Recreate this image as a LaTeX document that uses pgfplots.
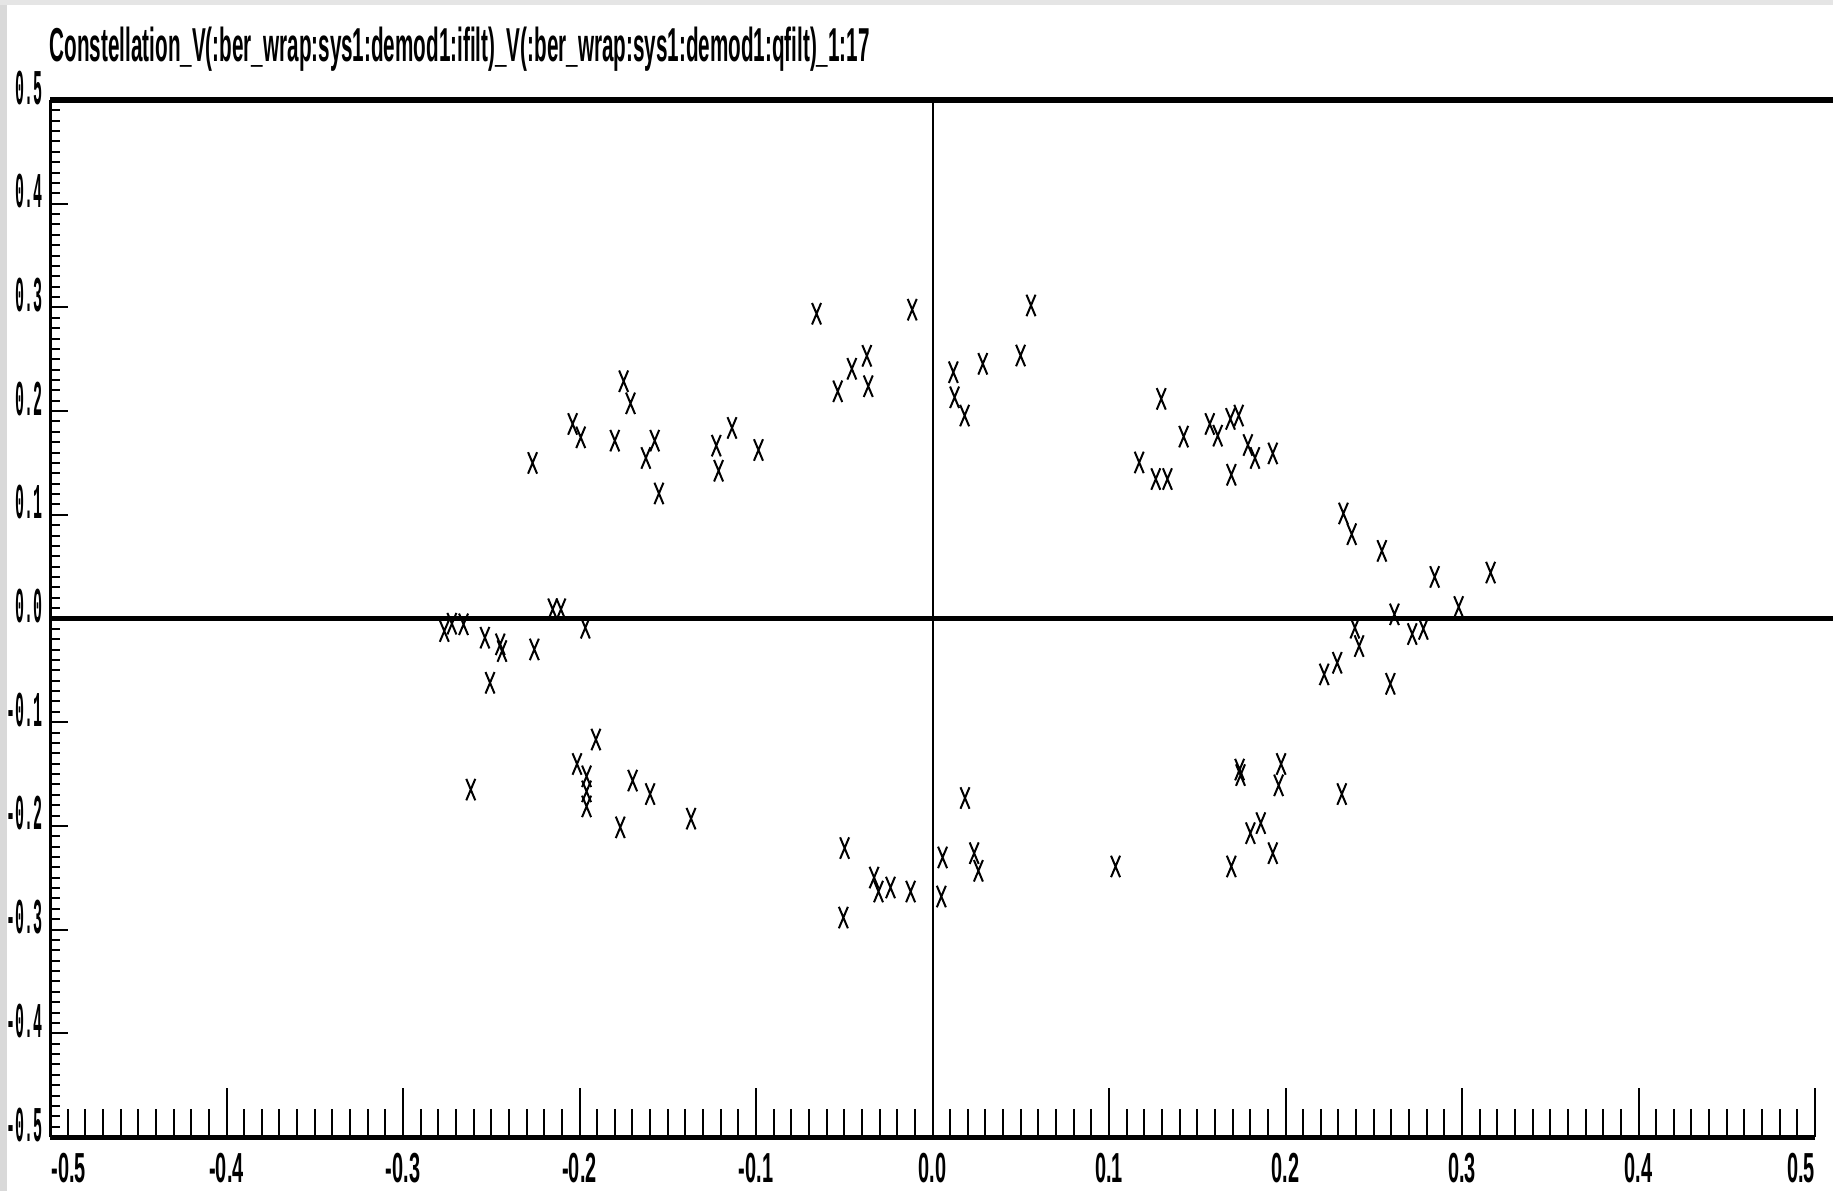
\documentclass[border=0pt]{standalone}
\usepackage{pgfplots}
\pgfplotsset{compat=1.18}
\usepackage{fontspec}
\setmainfont{Liberation Sans}
\newfontfamily\monofont{Liberation Mono}
\newcommand{\xl}[1]{\scalebox{0.475}[1]{\fontsize{10.5}{12}\selectfont\bfseries #1}}
\newcommand{\yl}[1]{\scalebox{0.3}[1]{\fontsize{12.5}{14}\selectfont\monofont\bfseries #1}}
\begin{document}
\begin{tikzpicture}
\fill[white] (0,0) rectangle (458.25pt,297.75pt);
\path[use as bounding box] (0,0) rectangle (458.25pt,297.75pt);
\fill[gray!30] (0,0) rectangle (1.8pt,297.75pt);
\fill[gray!20] (0,296.5pt) rectangle (458.25pt,297.75pt);
\node[anchor=base west, inner sep=0pt] at (12.25pt,282.25pt)
  {\resizebox{205pt}{\height}{\fontsize{11.9}{14}\selectfont\bfseries Constellation\_V(:ber\_wrap:sys1:demod1:ifilt)\_V(:ber\_wrap:sys1:demod1:qfilt)\_1:17}};
\begin{axis}[
  at={(12.5pt,13.5pt)}, anchor=south west,
  width=441.25pt, height=259.25pt, scale only axis,
  xmin=-0.5, xmax=0.5, ymin=-0.5, ymax=0.5,
  axis x line*=bottom, axis y line*=left,
  x axis line style={line width=1.25pt,-},
  y axis line style={line width=0.75pt,-},
  clip=false,
  xtick={-0.5,-0.4,-0.3,-0.2,-0.1,0,0.1,0.2,0.3,0.4,0.5},
  ytick={-0.5,-0.4,-0.3,-0.2,-0.1,0,0.1,0.2,0.3,0.4,0.5},
  xticklabels={{\makebox[0pt][l]{\hspace{0.4pt}\xl{-0.5}}},\xl{-0.4},\xl{-0.3},\xl{-0.2},\xl{-0.1},\xl{0.0},\xl{0.1},\xl{0.2},\xl{0.3},\xl{0.4},{\makebox[0pt][r]{\xl{0.5}}}},
  yticklabels={\yl{-0.5},\yl{-0.4},\yl{-0.3},\yl{-0.2},\yl{-0.1},\yl{0.0},\yl{0.1},\yl{0.2},\yl{0.3},\yl{0.4},\yl{0.5}},
  minor x tick num=9, minor y tick num=9,
  tick align=inside,
  xtick style={/pgfplots/major tick length=12.25pt, /pgfplots/minor tick length=7pt, line width=0.5pt, black},
  ytick style={/pgfplots/major tick length=4.5pt, /pgfplots/minor tick length=2.5pt, line width=0.5pt, black},
  xticklabel style={anchor=north, inner sep=0pt, yshift=-3.75pt},
  yticklabel style={anchor=east, inner sep=0pt, xshift=-1.75pt, yshift=3.1pt},
]
\addplot[black, line width=1.5pt, mark=none] coordinates {(-0.5,0.5) (0.5103,0.5)};
\addplot[black, line width=1.1pt, mark=none] coordinates {(-0.5,0) (0.5103,0)};
\addplot[black, line width=0.5pt, mark=none] coordinates {(0,-0.5) (0,0.5)};
\addplot[only marks, mark=x, mark size=3.8pt, mark options={xscale=0.42, line width=0.5pt, black}] coordinates {
(-0.2266,0.150) (-0.2039,0.1876) (-0.1993,0.1747) (-0.180,0.1715) (-0.175,0.2288)
(-0.1711,0.2075) (-0.1624,0.1548) (-0.1574,0.1715) (-0.155,0.1206) (-0.1225,0.1667)
(-0.1212,0.1425) (-0.1136,0.1838) (-0.0986,0.1625) (-0.0657,0.2939) (-0.0537,0.2191)
(-0.0457,0.2408) (-0.0372,0.2533) (-0.0364,0.224) (-0.0115,0.2978)
(0.0118,0.2375) (0.0125,0.2133) (0.0182,0.1957) (0.0285,0.2456) (0.0499,0.2536) (0.0558,0.3019)
(0.1171,0.1505) (0.1265,0.1345) (0.1331,0.1345) (0.1296,0.2118) (0.1423,0.1754)
(0.1571,0.1876) (0.1616,0.1763) (0.1688,0.1925) (0.1735,0.1957) (0.1787,0.1673)
(0.1827,0.1548) (0.1693,0.1386) (0.1928,0.1592)
(0.2328,0.1013) (0.2375,0.0813) (0.2546,0.0652) (0.2845,0.0401) (0.3162,0.0443)
(0.2981,0.0111) (0.2617,0.004) (0.2393,-0.0089) (0.2417,-0.0266) (0.2718,-0.015)
(0.2781,-0.010) (0.2219,-0.0539) (0.2293,-0.0427) (0.2594,-0.063)
(0.174,-0.1457) (0.1745,-0.151) (0.1975,-0.1403) (0.1961,-0.1609) (0.2319,-0.1693)
(0.1801,-0.207) (0.186,-0.1973) (0.1928,-0.2263) (0.1693,-0.2391) (0.1037,-0.2391)
(0.0184,-0.1731) (0.0057,-0.2304) (0.005,-0.2681) (0.0236,-0.2263) (0.026,-0.2433)
(-0.0124,-0.2633) (-0.0238,-0.2594) (-0.0306,-0.2633) (-0.0331,-0.2498) (-0.0498,-0.2214) (-0.0505,-0.2884)
(-0.1368,-0.193) (-0.1769,-0.2014) (-0.16,-0.1693) (-0.1699,-0.1563) (-0.196,-0.1522)
(-0.196,-0.1667) (-0.196,-0.1812) (-0.2014,-0.1403) (-0.1907,-0.1167) (-0.2616,-0.165)
(-0.2766,-0.0121) (-0.2723,-0.005) (-0.2657,-0.0056) (-0.2536,-0.0185) (-0.2449,-0.0249)
(-0.2439,-0.0314) (-0.2507,-0.062) (-0.2256,-0.0298) (-0.2152,0.0089) (-0.2105,0.0089) (-0.1967,-0.0089)
};
\end{axis}
\end{tikzpicture}
\end{document}
